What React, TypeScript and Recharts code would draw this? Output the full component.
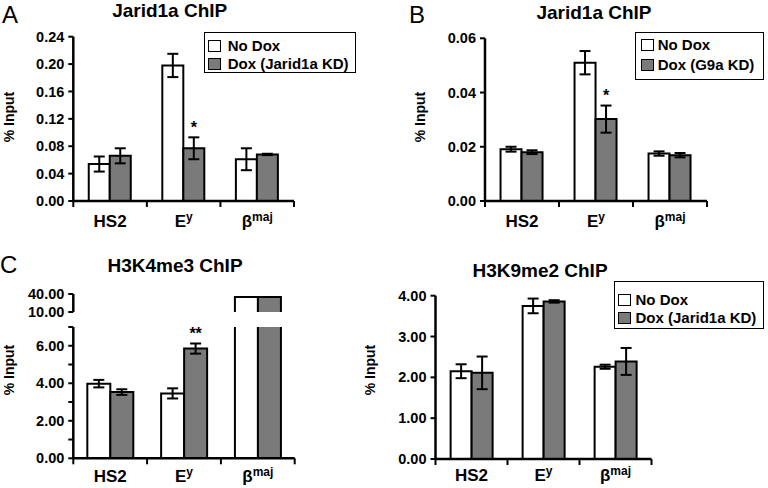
import React from "react";
import { BarChart, Bar, XAxis, YAxis, ErrorBar, LabelList, Legend, Label } from "recharts";

const FONT = "'Liberation Sans', Arial, Helvetica, sans-serif";

// ---------- shared ----------
const categories = ["HS2", "E", "β"];
const categorySup = ["", "y", "maj"];
const noDoxName = "No Dox";
const fillNoDox = "#ffffff";
const fillDox = "#7a7a7a";

// ---------- Panel A ----------
const aTitle = "Jarid1a ChIP";
const aDoxName = "Dox (Jarid1a KD)";
const aNoDox = [0.054, 0.198, 0.061];
const aNoDoxErr = [0.011, 0.017, 0.016];
const aDox = [0.066, 0.077, 0.068];
const aDoxErr = [0.011, 0.016, 0.001];
const aStars = ["", "*", ""];
const aTicks = [0, 0.04, 0.08, 0.12, 0.16, 0.2, 0.24];

// ---------- Panel B ----------
const bTitle = "Jarid1a ChIP";
const bDoxName = "Dox (G9a KD)";
const bNoDox = [0.0191, 0.051, 0.0175];
const bNoDoxErr = [0.0009, 0.0043, 0.0008];
const bDox = [0.018, 0.0302, 0.0169];
const bDoxErr = [0.0007, 0.005, 0.0008];
const bStars = ["", "*", ""];
const bTicks = [0, 0.02, 0.04, 0.06];

// ---------- Panel C ----------
const cTitle = "H3K4me3 ChIP";
const cDoxName = "Dox (Jarid1a KD)";
const cNoDox = [3.98, 3.46, 35.2];
const cNoDoxErr = [0.2, 0.27, 0];
const cDox = [3.53, 5.85, 35.0];
const cDoxErr = [0.15, 0.27, 0];
const cStars = ["", "**", ""];
const cLowerTicks = [0, 1, 2, 3, 4, 5, 6, 7];
const cUpperTicks = [10, 40];

// ---------- Panel D ----------
const dTitle = "H3K9me2 ChIP";
const dDoxName = "Dox (Jarid1a KD)";
const dNoDox = [2.15, 3.75, 2.26];
const dNoDoxErr = [0.17, 0.18, 0.05];
const dDox = [2.11, 3.86, 2.39];
const dDoxErr = [0.4, 0.03, 0.33];
const dStars = ["", "", ""];
const dTicks = [0, 1, 2, 3, 4];

const TICK_SIZE = 6;

function buildRows(noDox: number[], noErr: number[], dox: number[], doxErr: number[], stars: string[]) {
  return categories.map((c, i) => ({
    cat: c,
    noDox: noDox[i],
    noErr: noErr[i],
    dox: dox[i],
    doxErr: doxErr[i],
    star: stars[i],
  }));
}

function makeCatTick(halfBand: number, tickMargin: number) {
  return (props: any) => {
    const { x, y, payload } = props;
    const i = categories.indexOf(payload.value);
    const axisY = y - TICK_SIZE - tickMargin;
    const isLast = i === categories.length - 1;
    return (
      <g>
        <line x1={x - halfBand} x2={x - halfBand} y1={axisY} y2={axisY + TICK_SIZE} stroke="#000" strokeWidth={2} />
        {isLast ? (
          <line x1={x + halfBand} x2={x + halfBand} y1={axisY} y2={axisY + TICK_SIZE} stroke="#000" strokeWidth={2} />
        ) : null}
        <text x={x} y={y} dy="0.71em" textAnchor="middle" fontFamily={FONT} fontWeight="bold" fontSize={17} fill="#000">
          {categories[i]}
          {categorySup[i] ? (
            <tspan fontSize={12} dy={-6}>
              {categorySup[i]}
            </tspan>
          ) : null}
        </text>
      </g>
    );
  };
}

function makeYLabel(lx: number, ly: number) {
  return () => (
    <text
      x={lx}
      y={ly}
      transform={`rotate(-90 ${lx} ${ly})`}
      textAnchor="middle"
      fontFamily={FONT}
      fontWeight="bold"
      fontSize={14}
      fill="#000"
    >
      % Input
    </text>
  );
}

function makeStarLabel(values: number[], errs: number[]) {
  return (props: any) => {
    const vb = props.viewBox || props;
    const idx = props.index;
    const s = props.value;
    if (!s || vb == null) return null;
    const v = values[idx];
    const e = errs[idx];
    const errPx = v ? (e * vb.height) / v : 0;
    return (
      <text
        x={vb.x + vb.width / 2}
        y={vb.y - errPx - 4.5}
        textAnchor="middle"
        fontFamily={FONT}
        fontWeight="bold"
        fontSize={16}
        fill="#000"
      >
        {s}
      </text>
    );
  };
}

function makeLegend(cfg: any, names: string[], fills: string[]) {
  return () => (
    <div
      style={{
        width: cfg.w,
        height: cfg.h,
        border: "1.5px solid #000",
        boxSizing: "border-box",
        position: "relative",
        background: "#fff",
        fontFamily: FONT,
        fontWeight: "bold",
        fontSize: 15,
        color: "#000",
      }}
    >
      {names.map((n: string, i: number) => (
        <div
          key={i}
          style={{
            position: "absolute",
            left: cfg.sq,
            top: cfg.rows[i] - 9,
            height: 18,
            display: "flex",
            alignItems: "center",
            whiteSpace: "nowrap",
          }}
        >
          <span
            style={{
              display: "inline-block",
              width: 13,
              height: 12,
              border: "1.5px solid #000",
              boxSizing: "border-box",
              background: fills[i],
              marginRight: cfg.gap,
            }}
          />
          <span style={{ lineHeight: "18px" }}>{n}</span>
        </div>
      ))}
    </div>
  );
}

const axisLineStyle = { stroke: "#000", strokeWidth: 2.5 };
const tickLineStyle = { stroke: "#000", strokeWidth: 2 };
const yTickStyle = { fill: "#000", fontSize: 14.5, fontWeight: "bold", fontFamily: FONT };

function Panel(p: any) {
  const rows = buildRows(p.noDox, p.noDoxErr, p.dox, p.doxErr, p.stars);
  const plotW = p.width - p.margin.left - p.margin.right - p.yWidth;
  const halfBand = plotW / categories.length / 2;
  return (
    <div style={{ position: "absolute", left: p.left, top: p.top }}>
      <BarChart width={p.width} height={p.height} data={rows} margin={p.margin} barCategoryGap={p.gap} barGap={0}>
        <XAxis
          dataKey="cat"
          height={p.xHeight}
          interval={0}
          tickLine={false}
          axisLine={axisLineStyle}
          tickSize={TICK_SIZE}
          tickMargin={p.xMargin}
          tick={makeCatTick(halfBand, p.xMargin)}
        />
        <YAxis
          width={p.yWidth}
          type="number"
          domain={p.domain}
          ticks={p.ticks}
          allowDataOverflow
          interval={0}
          tickFormatter={p.fmt}
          axisLine={axisLineStyle}
          tickLine={tickLineStyle}
          tickSize={5}
          tickMargin={4}
          tick={yTickStyle}
        >
          <Label content={makeYLabel(p.label[0], p.label[1])} />
        </YAxis>
        {p.legend ? (
          <Legend
            layout="vertical"
            align="center"
            verticalAlign="middle"
            wrapperStyle={{ left: p.legend.left, top: p.legend.top, width: p.legend.w, height: p.legend.h }}
            content={makeLegend(p.legend, [noDoxName, p.doxName], [fillNoDox, fillDox])}
          />
        ) : null}
        <Bar dataKey="noDox" name={noDoxName} fill={fillNoDox} stroke="#000" strokeWidth={2} isAnimationActive={false}>
          <ErrorBar dataKey="noErr" width={5.5} stroke="#000" strokeWidth={2} direction="y" />
        </Bar>
        <Bar dataKey="dox" name={p.doxName} fill={fillDox} stroke="#000" strokeWidth={2} isAnimationActive={false}>
          <ErrorBar dataKey="doxErr" width={5.5} stroke="#000" strokeWidth={2} direction="y" />
          <LabelList dataKey="star" content={makeStarLabel(p.dox, p.doxErr)} />
        </Bar>
      </BarChart>
    </div>
  );
}

const OpenTopBar = (props: any) => {
  const { x, y, width, height, fill } = props;
  if (x == null || y == null || !height) return null;
  return (
    <g>
      <rect x={x} y={y} width={width} height={height} fill={fill} />
      <path
        d={`M${x},${y + height} L${x},${y} L${x + width},${y} L${x + width},${y + height}`}
        stroke="#000"
        strokeWidth={2}
        fill="none"
      />
    </g>
  );
};

function UpperBreak(p: any) {
  const rows = categories.map((c, i) => ({
    cat: c,
    noDox: p.noDox[i] > p.domain[0] ? p.noDox[i] : null,
    dox: p.dox[i] > p.domain[0] ? p.dox[i] : null,
  }));
  return (
    <div style={{ position: "absolute", left: p.left, top: p.top }}>
      <BarChart width={p.width} height={p.height} data={rows} margin={p.margin} barCategoryGap={p.gap} barGap={0}>
        <XAxis dataKey="cat" hide />
        <YAxis
          width={p.yWidth}
          type="number"
          domain={p.domain}
          ticks={p.ticks}
          allowDataOverflow
          interval={0}
          tickFormatter={(v: number) => v.toFixed(2)}
          axisLine={axisLineStyle}
          tickLine={tickLineStyle}
          tickSize={5}
          tickMargin={4}
          tick={yTickStyle}
        />
        <Bar dataKey="noDox" fill={fillNoDox} isAnimationActive={false} shape={OpenTopBar} />
        <Bar dataKey="dox" fill={fillDox} isAnimationActive={false} shape={OpenTopBar} />
      </BarChart>
    </div>
  );
}

const fmt2 = (v: number) => v.toFixed(2);
const fmtEven = (v: number) => (v % 2 === 0 ? v.toFixed(2) : "");

export default function App() {
  return (
    <div style={{ position: "absolute", left: 0, top: 0, width: 768, height: 488, background: "#fff", overflow: "hidden" }}>
      <svg width={768} height={488} style={{ position: "absolute", left: 0, top: 0 }}>
        <text x={2} y={22.7} fontSize={24} fontFamily={FONT} fill="#000">A</text>
        <text x={409} y={23} fontSize={24} fontFamily={FONT} fill="#000">B</text>
        <text x={0} y={273} fontSize={24} fontFamily={FONT} fill="#000">C</text>
        <text x={169.7} y={17} textAnchor="middle" fontSize={19} fontWeight="bold" fontFamily={FONT} fill="#000">{aTitle}</text>
        <text x={594} y={19} textAnchor="middle" fontSize={19} fontWeight="bold" fontFamily={FONT} fill="#000">{bTitle}</text>
        <text x={175} y={272} textAnchor="middle" fontSize={19} fontWeight="bold" fontFamily={FONT} fill="#000">{cTitle}</text>
        <text x={540} y={277} textAnchor="middle" fontSize={19} fontWeight="bold" fontFamily={FONT} fill="#000">{dTitle}</text>
      </svg>

      <Panel
        left={0} top={0} width={384} height={250}
        margin={{ top: 36.7, right: 90, bottom: 19, left: 0 }}
        yWidth={73.3} xHeight={30} xMargin={8} gap="21%"
        noDox={aNoDox} noDoxErr={aNoDoxErr} dox={aDox} doxErr={aDoxErr} stars={aStars}
        domain={[0, 0.24]} ticks={aTicks} fmt={fmt2} label={[14, 117]}
        doxName={aDoxName}
        legend={{ left: 204, top: 32, w: 152, h: 41, sq: 2.7, gap: 7, rows: [12.7, 30.8] }}
      />

      <Panel
        left={384} top={0} width={384} height={250}
        margin={{ top: 38.3, right: 61, bottom: 19, left: 0 }}
        yWidth={101} xHeight={30} xMargin={8} gap="21%"
        noDox={bNoDox} noDoxErr={bNoDoxErr} dox={bDox} doxErr={bDoxErr} stars={bStars}
        domain={[0, 0.06]} ticks={bTicks} fmt={fmt2} label={[41, 117]}
        doxName={bDoxName}
        legend={{ left: 250.7, top: 31.7, w: 129.3, h: 48.3, sq: 5, gap: 4, rows: [12.5, 32.5] }}
      />

      <Panel
        left={0} top={318} width={355} height={170}
        margin={{ top: 9, right: 60.3, bottom: 0, left: 0 }}
        yWidth={73.3} xHeight={29.7} xMargin={6} gap="19%"
        noDox={cNoDox} noDoxErr={cNoDoxErr} dox={cDox} doxErr={cDoxErr} stars={cStars}
        domain={[0, 7]} ticks={cLowerTicks} fmt={fmtEven} label={[14, 52]}
        doxName={cDoxName}
      />

      <UpperBreak
        left={0} top={270} width={355} height={60}
        margin={{ top: 24, right: 60.3, bottom: 18, left: 0 }}
        yWidth={73.3} gap="19%"
        noDox={cNoDox} dox={cDox}
        domain={[10, 40]} ticks={cUpperTicks}
      />

      <Panel
        left={355} top={250} width={413} height={238}
        margin={{ top: 45.7, right: 116.5, bottom: 0, left: 0 }}
        yWidth={80.5} xHeight={29} xMargin={4} gap="21%"
        noDox={dNoDox} noDoxErr={dNoDoxErr} dox={dDox} doxErr={dDoxErr} stars={dStars}
        domain={[0, 4]} ticks={dTicks} fmt={fmt2} label={[20, 120]}
        doxName={dDoxName}
        legend={{ left: 259, top: 30.7, w: 150, h: 48.6, sq: 2.5, gap: 5, rows: [18, 36.5] }}
      />
    </div>
  );
}
